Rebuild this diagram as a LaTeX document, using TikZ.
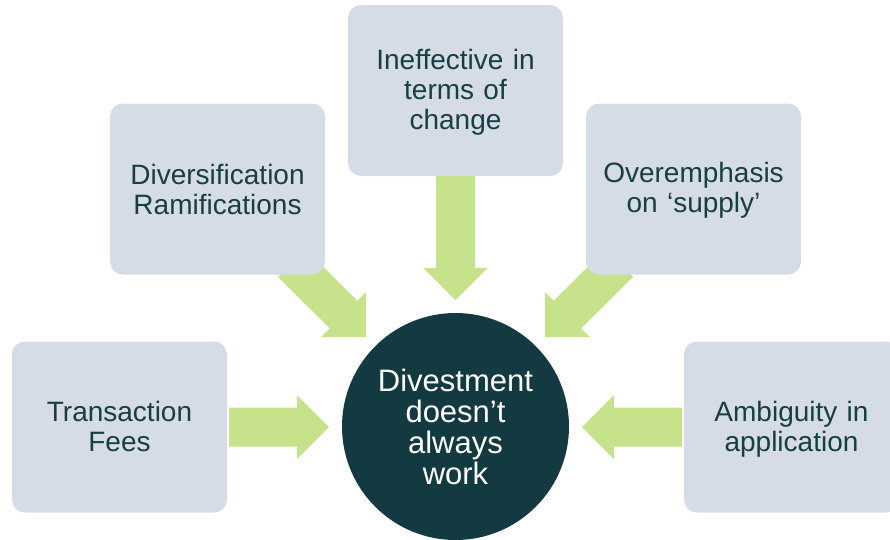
\documentclass[tikz,border=0pt]{standalone}
\usepackage{fontspec}
\setmainfont{Liberation Sans}
\definecolor{boxfill}{HTML}{D6DCE5}
\definecolor{darkteal}{HTML}{133A40}
\definecolor{txtteal}{HTML}{173F43}
\definecolor{arrowgreen}{HTML}{C6E28B}
\begin{document}
\begin{tikzpicture}[x=1pt,y=-1pt,
  item/.style={fill=boxfill, draw=none, rounded corners=13pt, minimum width=215pt, minimum height=171pt,
    inner sep=0pt},
  itemtext/.style={text width=205pt, align=center, text=txtteal, font=\fontsize{28}{30}\selectfont, inner sep=0pt},
  hub/.style={circle, fill=darkteal, draw=none, minimum size=227pt, text width=190pt, align=center,
    text=white, font=\fontsize{31}{31}\selectfont, inner sep=0pt},
  blockarrow/.style={fill=arrowgreen, draw=none}]
\useasboundingbox (0,0) rectangle (890,539);
% block arrows (drawn under boxes)
\fill[blockarrow] (229,407.5) -- (297,407.5) -- (297,395) -- (329,427) -- (297,459) -- (297,446.5) -- (229,446.5) -- cycle;
\fill[blockarrow] (682,407.5) -- (614,407.5) -- (614,395) -- (582,427) -- (614,459) -- (614,446.5) -- (682,446.5) -- cycle;
\fill[blockarrow] (436,172) -- (475,172) -- (475,268) -- (487.5,268) -- (455.5,300) -- (423.5,268) -- (436,268) -- cycle;
\fill[blockarrow] (366,337) -- (321.2,337) -- (329.7,328.3) -- (278,277) -- (305.6,249.4) -- (357.3,300.7) -- (366,292.1) -- cycle;
\fill[blockarrow] (545,337) -- (589.8,337) -- (581.3,328.3) -- (633,277) -- (605.4,249.4) -- (553.7,300.7) -- (545,292.1) -- cycle;
% boxes
\node[item] (fees) at (119.5,427) {};
\node[item] (div) at (217.5,189) {};
\node[item] (ineff) at (455.5,90.5) {};
\node[item] (over) at (693.5,189) {};
\node[item] (amb) at (791.5,427) {};
\node[itemtext] (feestext) at ([yshift=1pt]fees.center) {Transaction\\Fees};
\node[itemtext] (divtext) at (div.center) {Diversification\\Ramifications};
\node[itemtext] (inefftext) at ([yshift=-2pt]ineff.center) {Ineffective in\\terms of\\change};
\node[itemtext] (overtext) at ([yshift=-1pt]over.center) {Overemphasis\\on ‘supply’};
\node[itemtext] (ambtext) at ([yshift=-2pt]amb.center) {Ambiguity in\\application};
% hub
\node[hub] (hubnode) at (455.5,426.5) {Divestment\\doesn’t\\always\\work};
\end{tikzpicture}
\end{document}
